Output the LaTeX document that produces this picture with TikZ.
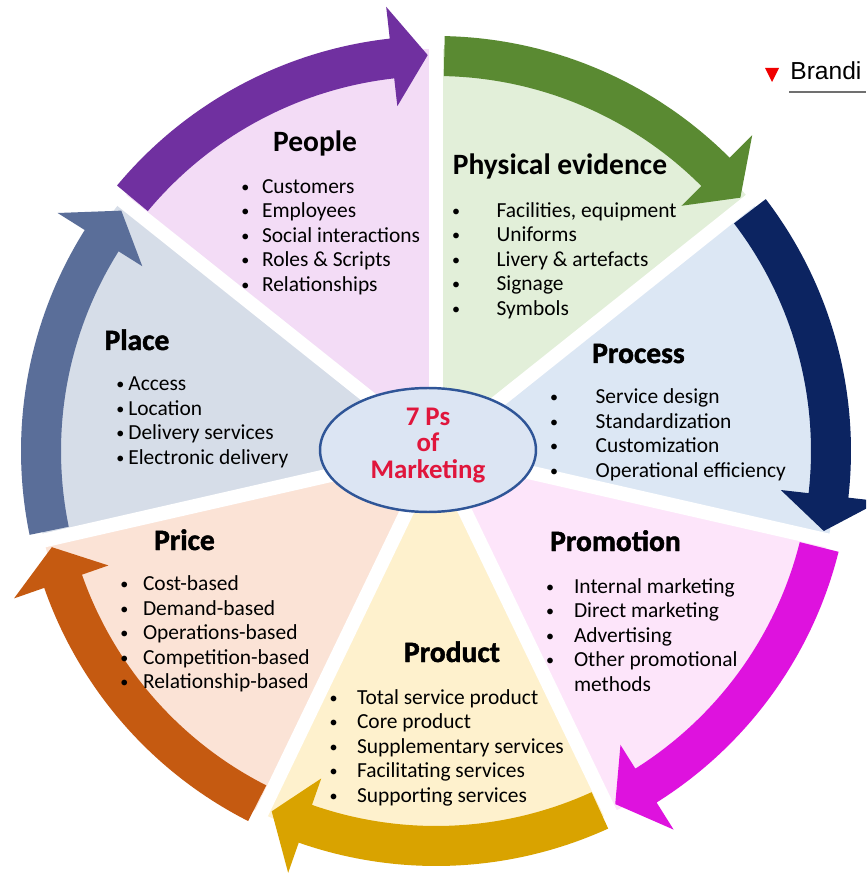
\documentclass[tikz,border=0pt]{standalone}
\usepackage{fontspec}
\setmainfont{Carlito}
\newfontfamily\heavyfont{Carlito}[FakeBold=1.5]
\newfontfamily\webfont{Liberation Sans}
\usepackage{graphicx}
\usepackage{tikz}
\usetikzlibrary{
	shapes.geometric
}
\usepackage{xcolor}

% pale sector fills
\definecolor{physpale}{HTML}{E2EFD9}
\definecolor{peoplepale}{HTML}{F3DCF6}
\definecolor{placepale}{HTML}{D6DDE8}
\definecolor{pricepale}{HTML}{FBE3D6}
\definecolor{prodpale}{HTML}{FEF1CD}
\definecolor{promopale}{HTML}{FDE5FA}
\definecolor{procpale}{HTML}{DCE7F4}
% rim arrows
\definecolor{physdark}{HTML}{5A8A32}
\definecolor{peopledark}{HTML}{7030A0}
\definecolor{placedark}{HTML}{5A6E99}
\definecolor{pricedark}{HTML}{C55A11}
\definecolor{proddark}{HTML}{D9A300}
\definecolor{promodark}{HTML}{DE12DE}
\definecolor{procdark}{HTML}{0C2461}
% hub and page bits
\definecolor{hubpale}{HTML}{DCE5F3}
\definecolor{hubline}{HTML}{2F5597}
\definecolor{hubred}{HTML}{E0163C}
\definecolor{webred}{HTML}{F00000}
\definecolor{webgray}{HTML}{707070}

\newdimen\pxu \pxu=0.02cm
\newcommand{\bul}[1]{\strut\makebox[0pt]{\raisebox{0.06em}{\scalebox{0.75}{\textbullet}}}\hspace{#1\pxu}}

\begin{document}
\begin{tikzpicture}[
		x=0.02cm, y=0.02cm,
		gapline/.style={
			white,
			line width=0.28cm
		},
		hub/.style={
			ellipse,
			draw=hubline,
			line width=1.4pt,
			fill=hubpale,
			minimum width=4.32cm,
			minimum height=2.48cm,
			inner sep=0pt
		},
		hubtext/.style={
			text=hubred,
			align=center,
			inner sep=0pt,
			font=\bfseries\fontsize{15.3}{15.08}\selectfont
		},
		heading/.style={
			anchor=base,
			inner sep=0pt,
			font=\bfseries\fontsize{16.8}{20}\selectfont
		},
		heavyhead/.style={
			heading,
			font=\heavyfont\bfseries\fontsize{16.8}{20}\selectfont
		},
		itemlist/.style={
			anchor=north west,
			align=left,
			inner sep=0pt,
			font=\fontsize{12.2}{13.94}\selectfont
		}
		]
		
		\clip (-436,-424) rectangle (430,451);
		\fill[white] (-436,-424) rectangle (430,451);
		
		% Sectors
		\foreach \pale [count=\k from 0] in {physpale,peoplepale,placepale,pricepale,prodpale,promopale,procpale} {
			\pgfmathsetmacro{\sa}{38.571+51.4286*\k}
			\pgfmathsetmacro{\ea}{\sa+51.4286}
			\fill[\pale] (0,0) -- (\sa:402) arc[start angle=\sa, end angle=\ea, radius=402] -- cycle;
		}
		
		% Gaps
		\foreach \k in {0,...,6}
		\draw[gapline] (0,0) -- ({38.571+51.4286*\k}:470);
		
		% Rim arrows
		\foreach \dark [count=\k from 0] in {physdark,peopledark,placedark,pricedark,proddark,promodark,procdark} {
			\pgfmathsetmacro{\atip}{38.571+51.4286*\k+1.2}
			\pgfmathsetmacro{\atail}{\atip+51.4286-2.4}
			\pgfmathsetmacro{\abase}{\atip+5.2}
			\fill[\dark] (\atail:415) arc[start angle=\atail, end angle=\abase, radius=415]
			-- (\abase:447) -- (\atip:396) -- (\abase:347) -- (\abase:375)
			arc[start angle=\abase, end angle=\atail, radius=375] -- cycle;
		}
		
		% Hub
		\node[hub] (hub) at (-8,1) {};
		\node[hubtext] (hubtext) at (-8,5.5) {7 Ps\\of\\Marketing};
		
		% People
		\node[heading] (people) at (-121,299) {People};
		\node[itemlist] (peoplelist) at (-191,275.15) {%
			\bul{16.7}Customers\\
			\bul{16.7}Employees\\
			\bul{16.7}Social interactions\\
			\bul{16.7}Roles \& Scripts\\
			\bul{16.7}Relationships};
		
		% Physical evidence
		\node[heading] (physical) at (124,276) {Physical evidence};
		\node[itemlist] (physlist) at (19.7,251.15) {%
			\bul{40.6}Facilities, equipment\\
			\bul{40.6}Uniforms\\
			\bul{40.6}Livery \& artefacts\\
			\bul{40.6}Signage\\
			\bul{40.6}Symbols};
		
		% Process
		\node[heavyhead] (process) at (202.5,88) {Process};
		\node[itemlist] (proclist) at (117.7,64.65) {%
			\bul{41.6}Service design\\
			\bul{41.6}Standardization\\
			\bul{41.6}Customization\\
			\bul{41.6}Operational efficiency};
		
		% Promotion
		\node[heavyhead] (promotion) at (179.5,-100) {Promotion};
		\node[itemlist] (promolist) at (113.7,-124.85) {%
			\bul{24}Internal marketing\\
			\bul{24}Direct marketing\\
			\bul{24}Advertising\\
			\bul{24}Other promotional\\
			\strut\hspace{24\pxu}methods};
		
		% Product
		\node[heavyhead] (product) at (16,-211) {Product};
		\node[itemlist] (prodlist) at (-102.7,-235.85) {%
			\bul{23.4}Total service product\\
			\bul{23.4}Core product\\
			\bul{23.4}Supplementary services\\
			\bul{23.4}Facilitating services\\
			\bul{23.4}Supporting services};
		
		% Price
		\node[heavyhead] (price) at (-251.5,-99) {Price};
		\node[itemlist] (pricelist) at (-312,-122.35) {%
			\bul{18.7}Cost-based\\
			\bul{18.7}Demand-based\\
			\bul{18.7}Operations-based\\
			\bul{18.7}Competition-based\\
			\bul{18.7}Relationship-based};
		
		% Place
		\node[heavyhead] (place) at (-299,101) {Place};
		\node[itemlist] (placelist) at (-316,77.65) {%
			\bul{8}Access\\
			\bul{8}Location\\
			\bul{8}Delivery services\\
			\bul{8}Electronic delivery};
		
		% Page corner
		\fill[webred] (329,383) -- (343,383) -- (336,369) -- cycle;
		\node[anchor=base west, inner sep=0pt, font=\webfont\fontsize{14}{16}\selectfont] (brand) at (354,371) {Brandi};
		\draw[webgray, line width=0.75pt] (353,359) -- (430,359);
		
	\end{tikzpicture}
\end{document}
